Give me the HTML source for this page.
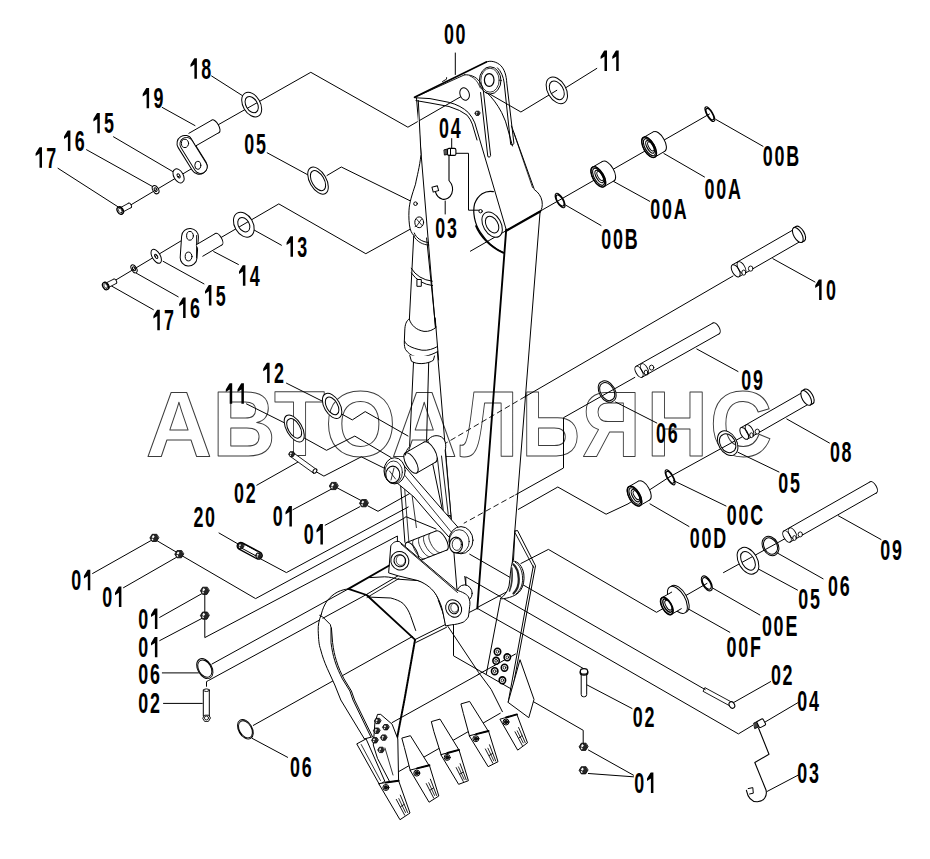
<!DOCTYPE html>
<html><head><meta charset="utf-8"><style>
html,body{margin:0;padding:0;background:#fff;width:930px;height:859px;overflow:hidden}
svg{display:block}
.wm text{font-family:"Liberation Sans",sans-serif;font-weight:bold;font-size:93px;fill:none;stroke:#3c3c3c;stroke-width:1;stroke-linejoin:round}
.lb text{font-family:"Liberation Sans",sans-serif;font-weight:bold;font-size:29.8px;fill:#000}
</style></head><body>
<svg width="930" height="859" viewBox="0 0 930 859" stroke-linecap="round" stroke-linejoin="round">
<g class="wm"><text transform="translate(145.8 456.4) scale(0.989 1)">А</text>
<text transform="translate(212.3 456.4) scale(0.946 1)">В</text>
<text transform="translate(273.9 456.4) scale(0.900 1)">Т</text>
<text transform="translate(324.7 456.4) scale(0.989 1)">О</text>
<text transform="translate(391.3 456.4) scale(0.983 1)">А</text>
<text transform="translate(459.8 456.4) scale(0.897 1)">Л</text>
<text transform="translate(521.3 456.4) scale(0.881 1)">Ь</text>
<text transform="translate(582 456.4) scale(0.876 1)">Я</text>
<text transform="translate(646.5 456.4) scale(0.915 1)">Н</text>
<text transform="translate(709.7 456.4) scale(0.932 1)">С</text></g>
<g class="main"><polyline points="211.6,76 243,96" fill="none" stroke="#000" stroke-width="1"/>
<polyline points="162.2,107.4 195,125.6" fill="none" stroke="#000" stroke-width="1"/>
<polyline points="113.5,136.8 174,172.3" fill="none" stroke="#000" stroke-width="1"/>
<polyline points="86.5,149.7 154.8,187.8" fill="none" stroke="#000" stroke-width="1"/>
<polyline points="58,168.3 118.3,207" fill="none" stroke="#000" stroke-width="1"/>
<polyline points="129,206 197.8,165" fill="none" stroke="#000" stroke-width="1"/>
<polyline points="216,126 310.8,72.3 407.9,127.2 464.6,94.5" fill="none" stroke="#000" stroke-width="1"/>
<polyline points="267.2,152.8 309,175.5" fill="none" stroke="#000" stroke-width="1"/>
<polyline points="327,175.5 341.3,167 415.4,203.4" fill="none" stroke="#000" stroke-width="1"/>
<polyline points="253.5,229.7 281.4,245.2" fill="none" stroke="#000" stroke-width="1"/>
<polyline points="213.7,251.6 238.4,264.5" fill="none" stroke="#000" stroke-width="1"/>
<polyline points="163.1,261.3 204,283.9" fill="none" stroke="#000" stroke-width="1"/>
<polyline points="136.2,273.1 178.2,296.8" fill="none" stroke="#000" stroke-width="1"/>
<polyline points="111.5,286 153.4,309.7" fill="none" stroke="#000" stroke-width="1"/>
<polyline points="110,283.5 190,235.5" fill="none" stroke="#000" stroke-width="1"/>
<polyline points="219,238.7 278.8,203.9 365.8,253.7 418.7,224.5" fill="none" stroke="#000" stroke-width="1"/>
<polyline points="455.3,53 455.3,74.5" fill="none" stroke="#000" stroke-width="1"/>
<polyline points="596.8,68.4 565.8,87.7" fill="none" stroke="#000" stroke-width="1"/>
<polyline points="556.8,90.3 520.9,112 486.3,92.1" fill="none" stroke="#000" stroke-width="1"/>
<polyline points="451.7,138.6 451.7,149.6" fill="none" stroke="#000" stroke-width="1"/>
<polyline points="445.2,201 445.2,214" fill="none" stroke="#000" stroke-width="1"/>
<polyline points="456.4,153.3 468.5,153.3 468.5,210.2 479.5,210.2" fill="none" stroke="#000" stroke-width="1"/>
<polyline points="470.4,251.2 709.5,114" fill="none" stroke="#000" stroke-width="1"/>
<polyline points="715.8,119.4 763,146.3" fill="none" stroke="#000" stroke-width="1"/>
<polyline points="663.9,153.5 704.5,177" fill="none" stroke="#000" stroke-width="1"/>
<polyline points="613.5,181.4 649.7,201.3" fill="none" stroke="#000" stroke-width="1"/>
<polyline points="565.8,205.2 601,225.5" fill="none" stroke="#000" stroke-width="1"/>
<polyline points="733,276 525,396.7" fill="none" stroke="#000" stroke-width="1"/>
<polyline points="525,396.7 430,452.4" fill="none" stroke="#000" stroke-width="0.9" stroke-dasharray="5,4"/>
<polyline points="772.9,258.7 815,282" fill="none" stroke="#000" stroke-width="1"/>
<polyline points="634.8,377.4 563.5,417.7 563.5,468 515.7,494.7" fill="none" stroke="#000" stroke-width="1"/>
<polyline points="514,495.6 464.1,523.1" fill="none" stroke="#000" stroke-width="0.9" stroke-dasharray="5,4"/>
<polyline points="696.8,349 738,371.5" fill="none" stroke="#000" stroke-width="1"/>
<polyline points="615.5,402 656.8,423" fill="none" stroke="#000" stroke-width="1"/>
<polyline points="742,437 669.7,476.8" fill="none" stroke="#000" stroke-width="1"/>
<polyline points="669.7,476.8 628,503.9 606.1,514.2 557.8,487 518.3,509.4" fill="none" stroke="#000" stroke-width="1"/>
<polyline points="786.8,419 829.4,443" fill="none" stroke="#000" stroke-width="1"/>
<polyline points="738,452.3 779,472" fill="none" stroke="#000" stroke-width="1"/>
<polyline points="673.5,480.6 726,506" fill="none" stroke="#000" stroke-width="1"/>
<polyline points="650,503.9 689,526.5" fill="none" stroke="#000" stroke-width="1"/>
<polyline points="707,583.4 656.5,612.3 548.4,549.4 520.9,563.5" fill="none" stroke="#000" stroke-width="1"/>
<polyline points="712,587.7 759.9,615" fill="none" stroke="#000" stroke-width="1"/>
<polyline points="687.4,608.4 729.8,632.3" fill="none" stroke="#000" stroke-width="1"/>
<polyline points="723.5,572.6 786.8,537.7" fill="none" stroke="#000" stroke-width="1"/>
<polyline points="758.4,569 797.5,590.1" fill="none" stroke="#000" stroke-width="1"/>
<polyline points="777.7,553.2 823.1,578.8" fill="none" stroke="#000" stroke-width="1"/>
<polyline points="838.4,515.8 881,539.5" fill="none" stroke="#000" stroke-width="1"/>
<polyline points="733.5,702.6 770.6,681.6" fill="none" stroke="#000" stroke-width="1"/>
<polyline points="762.6,723.5 798,702.6" fill="none" stroke="#000" stroke-width="1"/>
<polyline points="767.4,791.3 798,775.2" fill="none" stroke="#000" stroke-width="1"/>
<polyline points="586.8,684.8 632,708.5" fill="none" stroke="#000" stroke-width="1"/>
<polyline points="588.4,750 633.5,775.2" fill="none" stroke="#000" stroke-width="1"/>
<polyline points="588.4,773.5 633.5,776.8" fill="none" stroke="#000" stroke-width="1"/>
<polyline points="286.5,383.2 322.6,401.3" fill="none" stroke="#000" stroke-width="1"/>
<polyline points="342,414.2 352.3,419.9 365.2,411.6 408,436" fill="none" stroke="#000" stroke-width="1"/>
<polyline points="246.5,403.9 285.2,423.2" fill="none" stroke="#000" stroke-width="1"/>
<polyline points="303.2,437.4 326.5,450.3 354.8,436.1 391,457.5" fill="none" stroke="#000" stroke-width="1"/>
<polyline points="298,462 256.8,485.2" fill="none" stroke="#000" stroke-width="1"/>
<polyline points="314.8,471 323.9,476.1 361.3,456.8 392,472" fill="none" stroke="#000" stroke-width="1"/>
<polyline points="331.6,489 292.9,509.7" fill="none" stroke="#000" stroke-width="1"/>
<polyline points="336.8,487.7 363.9,502" fill="none" stroke="#000" stroke-width="1"/>
<polyline points="367.7,505.8 378,511.3 413.3,491.5" fill="none" stroke="#000" stroke-width="1"/>
<polyline points="360,506.6 325.2,525.2" fill="none" stroke="#000" stroke-width="1"/>
<polyline points="219,533 237.9,543.9" fill="none" stroke="#000" stroke-width="1"/>
<polyline points="259,558 286.4,572.6 408.2,507" fill="none" stroke="#000" stroke-width="1"/>
<polyline points="152,540 92.6,573.5" fill="none" stroke="#000" stroke-width="1"/>
<polyline points="176.5,557.3 123.5,587.7" fill="none" stroke="#000" stroke-width="1"/>
<polyline points="155.8,540 177.7,552.9" fill="none" stroke="#000" stroke-width="1"/>
<polyline points="181.6,555.5 255.6,598.6 403.9,518.3 406,516.7 436,529" fill="none" stroke="#000" stroke-width="1"/>
<polyline points="202.3,593.4 159.7,617.4" fill="none" stroke="#000" stroke-width="1"/>
<polyline points="202.3,618.2 159.7,640.6" fill="none" stroke="#000" stroke-width="1"/>
<polyline points="204.8,594.2 204.8,612.3" fill="none" stroke="#000" stroke-width="1"/>
<polyline points="204.8,618.7 204.8,637.6 397.4,536 397.4,575.3" fill="none" stroke="#000" stroke-width="1"/>
<polyline points="162.3,672.9 198.4,672.9" fill="none" stroke="#000" stroke-width="1"/>
<polyline points="163.5,703.4 202.3,703.4" fill="none" stroke="#000" stroke-width="1"/>
<polyline points="206.5,686.3 206.5,681.6 208.5,680.5 366.1,594.7 398,575.8" fill="none" stroke="#000" stroke-width="1"/>
<polyline points="367,597.5 399,578.5" fill="none" stroke="#000" stroke-width="0.9"/>
<polyline points="212,664 348.4,588.9" fill="none" stroke="#000" stroke-width="1"/>
<polyline points="252.2,738.4 287.6,757.3" fill="none" stroke="#000" stroke-width="1"/>
<polyline points="253.3,725.4 412.5,636.5" fill="none" stroke="#000" stroke-width="1"/>
<polyline points="416.5,98 457,590" fill="none" stroke="#000" stroke-width="1"/>
<polyline points="414.5,97.2 486.3,62" fill="none" stroke="#000" stroke-width="1.7"/>
<polyline points="414.5,97.5 464.6,74.8" fill="none" stroke="#000" stroke-width="0.9"/>
<polyline points="442.5,81.5 446.5,79.2 446.6,77.6" fill="none" stroke="#000" stroke-width="0.9"/>
<path d="M414.5,97.7 L430,98.6 L449.2,102.4 Q461,105.5 468.4,112.6 Q473,118 474.8,122.9 L506.2,229.6" fill="none" stroke="#000" stroke-width="1"/>
<path d="M416,100.6 L430,103 L449,106.5 Q460.7,110 467.1,115.2 Q471,120 472.3,124.1 L477,140" fill="none" stroke="#000" stroke-width="1"/>
<polyline points="506.2,229.6 477.3,608.5" fill="none" stroke="#000" stroke-width="1.9"/>
<path d="M486.3,62 C491,60 497,62 500.8,65.6 C504.5,69.5 506.3,75 506.8,83.2 L513.9,143.3 Q513,146 510.7,144.5 L504.2,83 C503.5,77 501,71 497.5,67.8" fill="none" stroke="#000" stroke-width="1"/>
<ellipse cx="490.2" cy="80.4" rx="10.8" ry="13.6" fill="#fff" stroke="#000" stroke-width="1"/>
<ellipse cx="490" cy="80.2" rx="9.2" ry="12" fill="none" stroke="#000" stroke-width="0.8"/>
<ellipse cx="489.2" cy="80" rx="4.8" ry="6.4" fill="#fff" stroke="#000" stroke-width="1.2"/>
<path d="M464.6,74.8 C470,74.5 476,76.5 479.5,81.5 C482,85 483,89 483.5,92 L490.6,155.6 Q489.5,158.5 487.8,156.5 L480.6,92.5" fill="none" stroke="#000" stroke-width="1"/>
<path d="M470,76 C475,78 478,82 480.3,88" fill="none" stroke="#000" stroke-width="0.8"/>
<path d="M486.3,92.1 Q495,100 501.7,112.6 Q506,121 508,130 L512.5,146" fill="none" stroke="#000" stroke-width="1"/>
<path d="M511.5,126 L534.4,189.7 C538,192 541,196 542,201 C542.8,206 541.8,209.5 540.1,211.5 L512.2,564" fill="none" stroke="#000" stroke-width="1"/>
<path d="M513.9,133 L532.5,187.5" fill="none" stroke="#000" stroke-width="0.8"/>
<polyline points="506.2,230.8 540.1,211.5" fill="none" stroke="#000" stroke-width="2.2"/>
<ellipse cx="464.6" cy="94" rx="4.6" ry="6.3" transform="rotate(-20 464.6 94)" fill="#fff" stroke="#000" stroke-width="1"/>
<polygon points="480,113.3 478.7,115.4 476.1,115.4 474.8,113.3 476.1,111.2 478.7,111.2" fill="#262626" stroke="#000" stroke-width="0.8"/>
<polygon points="475.9,112.9 476.7,111.6 477.6,112.5 476.8,113.5" fill="#fff" stroke="none"/>
<polygon points="475.7,113.9 476.5,113.7 476.9,114.6 476.2,114.8" fill="#fff" stroke="none"/>
<path d="M493.4,191.6 C485,190 478,194.8 474.6,203.8 C472.5,212 474.5,224 480.6,232.5 C486,241 495,249 503.7,252.6" fill="none" stroke="#000" stroke-width="1.2"/>
<path d="M476,226 C480,236 490,247 503,252.8" fill="none" stroke="#000" stroke-width="1.8"/>
<path transform="translate(492.1 224.6) rotate(60)" d="M-13.6,0 a13.6,8.8 0 1,0 27.3,0 a13.6,8.8 0 1,0 -27.3,0 Z M-9,0 a9,5.8 0 1,0 18,0 a9,5.8 0 1,0 -18,0 Z" fill="#fff" fill-rule="evenodd" stroke="#000" stroke-width="1"/>
<ellipse cx="480.6" cy="211.2" rx="1.7" ry="1.7" fill="#fff" stroke="#000" stroke-width="1"/>
<polyline points="477.3,607.5 515,587.5" fill="none" stroke="#000" stroke-width="1"/>
<polyline points="464.7,576.4 466,586" fill="none" stroke="#000" stroke-width="0.9"/>
<path d="M418.3,100.5 L421,154.4 C419.5,168 417,176 415.5,184.2 C412,195 409.5,202 409,210.2 C408.6,217 409,224 410.2,229 C411.5,233 413,235 414.5,236" fill="#fff" stroke="#000" stroke-width="1"/>
<ellipse cx="415.5" cy="203.7" rx="1.8" ry="1.8" fill="#fff" stroke="#000" stroke-width="1"/>
<ellipse cx="419.2" cy="222.3" rx="4.4" ry="5.4" fill="#fff" stroke="#000" stroke-width="1"/>
<polyline points="416.5,219 422,225.5" fill="none" stroke="#000" stroke-width="0.8"/>
<polyline points="416.8,225.8 421.8,218.8" fill="none" stroke="#000" stroke-width="0.8"/>
<path d="M414.3,233 C416,238 422,242 428.5,242.5" fill="none" stroke="#000" stroke-width="1"/>
<path d="M413.8,236 C416.5,241.5 423,245 428.8,245" fill="none" stroke="#000" stroke-width="0.9"/>
<polyline points="413.7,236 409.4,318.8" fill="none" stroke="#000" stroke-width="1"/>
<polyline points="426.6,238 435.8,328.8" fill="none" stroke="#000" stroke-width="1"/>
<path d="M411.2,268.2 Q418,279.5 432.3,281.2" fill="none" stroke="#000" stroke-width="1"/>
<path d="M411.4,273 Q419,284 432.6,285.6" fill="none" stroke="#000" stroke-width="1"/>
<rect x="417.3" y="279.5" width="4" height="6.8" fill="#fff" stroke="#000" stroke-width="1"/>
<path d="M409.3,318.8 C406,321 405,325 404.8,330 L404.3,342 C404.3,346 404.8,348 405.5,349.5 C408,353 411,355.5 415,356.5 C421,357.8 430,356 437.8,351.5 L436.6,327.2 C433,330 429,331.8 424,331.4 C416,330 411,325 409.3,319.3 Z" fill="#fff" stroke="none"/>
<path d="M409.3,318.8 C406,321 405,325 404.8,330 L404.3,342 C404.3,346 404.8,348 405.5,349.5 C408,353 411,355.5 415,356.5 C421,357.8 430,356 437.8,351.5" fill="none" stroke="#000" stroke-width="1"/>
<path d="M409.3,319.3 C411,325 416,330 424,331.4 C429,331.8 433,330 436.2,327.2" fill="none" stroke="#000" stroke-width="1"/>
<path d="M404.6,341.3 C406,345 411,348 421.9,350.2 C428,350.8 433,349 437.3,346.6" fill="none" stroke="#000" stroke-width="1"/>
<path d="M409.8,355.5 L411.4,361.2 C414,363 418,363.7 421.9,363.6 C427,363.3 431,362 433.4,360.2 L434.5,356" fill="#fff" stroke="#000" stroke-width="1"/>
<polyline points="435.2,318 438.6,360" fill="none" stroke="#000" stroke-width="1"/>
<polyline points="413.5,362.3 409.6,446" fill="none" stroke="#000" stroke-width="1"/>
<polyline points="428.7,362.3 426.4,447.5" fill="none" stroke="#000" stroke-width="1"/>
<ellipse cx="129.8" cy="205.4" rx="2.5" ry="1.4" transform="rotate(60 129.8 205.4)" fill="#fff" stroke="#000" stroke-width="0.9"/>
<polygon points="118.8,208.5 128.6,203.2 131.1,207.6 121.2,212.9" fill="#fff" stroke="none"/>
<polyline points="118.8,208.5 128.6,203.2" fill="none" stroke="#000" stroke-width="0.9"/>
<polyline points="121.2,212.9 131.1,207.6" fill="none" stroke="#000" stroke-width="0.9"/>
<ellipse cx="120" cy="210.7" rx="2.5" ry="1.4" transform="rotate(60 120 210.7)" fill="#fff" stroke="#000" stroke-width="0.9"/>
<ellipse cx="120.6" cy="210.3" rx="3.9" ry="2.6" transform="rotate(60 120.6 210.3)" fill="#fff" stroke="#000" stroke-width="1.1"/>
<ellipse cx="120" cy="210.7" rx="3.9" ry="2.6" transform="rotate(60 120 210.7)" fill="#fff" stroke="#000" stroke-width="1.3"/>
<ellipse cx="120.2" cy="210.6" rx="2.6" ry="1.5" transform="rotate(60 120.2 210.6)" fill="none" stroke="#000" stroke-width="0.7"/>
<path transform="translate(155.6 189.6) rotate(60)" d="M-4.4,0 a4.4,2.8 0 1,0 8.9,0 a4.4,2.8 0 1,0 -8.9,0 Z M-2,0 a2,1.3 0 1,0 4,0 a2,1.3 0 1,0 -4,0 Z" fill="#fff" fill-rule="evenodd" stroke="#000" stroke-width="1"/>
<path transform="translate(178.6 175.9) rotate(60)" d="M-7.5,0 a7.5,4.2 0 1,0 14.9,0 a7.5,4.2 0 1,0 -14.9,0 Z M-2.2,0 a2.2,1.3 0 1,0 4.5,0 a2.2,1.3 0 1,0 -4.5,0 Z" fill="#fff" fill-rule="evenodd" stroke="#000" stroke-width="1"/>
<path d="M185,143.4 L199.2,166.2" stroke="#000" stroke-width="17" stroke-linecap="round" fill="none"/>
<path d="M185,143.4 L199.2,166.2" stroke="#fff" stroke-width="15" stroke-linecap="round" fill="none"/>
<path d="M186.5,144 L200.6,166.8" stroke="#000" stroke-width="14.1" stroke-linecap="round" fill="none"/>
<path d="M186.5,144 L200.6,166.8" stroke="#fff" stroke-width="12.3" stroke-linecap="round" fill="none"/>
<ellipse cx="185" cy="143.4" rx="3.6" ry="4.2" fill="#fff" stroke="#000" stroke-width="1"/>
<ellipse cx="197.8" cy="165.3" rx="3" ry="4" fill="#fff" stroke="#000" stroke-width="1"/>
<ellipse cx="215.5" cy="126.3" rx="7.2" ry="3.2" transform="rotate(60 215.5 126.3)" fill="#fff" stroke="#000" stroke-width="1"/>
<polygon points="188.9,133.3 211.9,120.1 219.1,132.5 196.1,145.7" fill="#fff" stroke="none"/>
<polyline points="188.9,133.3 211.9,120.1" fill="none" stroke="#000" stroke-width="1"/>
<polyline points="196.1,145.7 219.1,132.5" fill="none" stroke="#000" stroke-width="1"/>
<path transform="translate(251.7 104.6) rotate(60)" d="M-13.3,0 a13.3,8.6 0 1,0 26.6,0 a13.3,8.6 0 1,0 -26.6,0 Z M-8.8,0 a8.8,5.7 0 1,0 17.6,0 a8.8,5.7 0 1,0 -17.6,0 Z" fill="#fff" fill-rule="evenodd" stroke="#000" stroke-width="1"/>
<path transform="translate(318 180.6) rotate(60)" d="M-14.8,0 a14.8,8.2 0 1,0 29.7,0 a14.8,8.2 0 1,0 -29.7,0 Z M-11,0 a11,6.1 0 1,0 22,0 a11,6.1 0 1,0 -22,0 Z" fill="#fff" fill-rule="evenodd" stroke="#000" stroke-width="1"/>
<ellipse cx="115" cy="281.3" rx="2.5" ry="1.4" transform="rotate(60 115 281.3)" fill="#fff" stroke="#000" stroke-width="0.9"/>
<polygon points="104.2,283.9 113.8,279.1 116.2,283.5 106.8,288.3" fill="#fff" stroke="none"/>
<polyline points="104.2,283.9 113.8,279.1" fill="none" stroke="#000" stroke-width="0.9"/>
<polyline points="106.8,288.3 116.2,283.5" fill="none" stroke="#000" stroke-width="0.9"/>
<ellipse cx="105.5" cy="286.1" rx="2.5" ry="1.4" transform="rotate(60 105.5 286.1)" fill="#fff" stroke="#000" stroke-width="0.9"/>
<ellipse cx="106.1" cy="285.7" rx="3.9" ry="2.6" transform="rotate(60 106.1 285.7)" fill="#fff" stroke="#000" stroke-width="1.1"/>
<ellipse cx="105.5" cy="286.1" rx="3.9" ry="2.6" transform="rotate(60 105.5 286.1)" fill="#fff" stroke="#000" stroke-width="1.3"/>
<ellipse cx="105.7" cy="286" rx="2.6" ry="1.5" transform="rotate(60 105.7 286)" fill="none" stroke="#000" stroke-width="0.7"/>
<path transform="translate(134 268.8) rotate(60)" d="M-4.4,0 a4.4,2.5 0 1,0 8.8,0 a4.4,2.5 0 1,0 -8.8,0 Z M-2,0 a2,1.1 0 1,0 3.9,0 a2,1.1 0 1,0 -3.9,0 Z" fill="#fff" fill-rule="evenodd" stroke="#000" stroke-width="1"/>
<path transform="translate(156.2 256.3) rotate(60)" d="M-7.7,0 a7.7,4 0 1,0 15.5,0 a7.7,4 0 1,0 -15.5,0 Z M-2.3,0 a2.3,1.2 0 1,0 4.6,0 a2.3,1.2 0 1,0 -4.6,0 Z" fill="#fff" fill-rule="evenodd" stroke="#000" stroke-width="1"/>
<path d="M190,236.8 L188.6,257.6" stroke="#000" stroke-width="17.8" stroke-linecap="round" fill="none"/>
<path d="M190,236.8 L188.6,257.6" stroke="#fff" stroke-width="15.8" stroke-linecap="round" fill="none"/>
<polyline points="196.6,235.5 196.5,258" fill="none" stroke="#000" stroke-width="0.9"/>
<ellipse cx="190" cy="235.8" rx="3.4" ry="4.4" fill="#fff" stroke="#000" stroke-width="1"/>
<ellipse cx="188.6" cy="256.5" rx="3.4" ry="4.4" fill="#fff" stroke="#000" stroke-width="1"/>
<ellipse cx="218.7" cy="239.2" rx="6.6" ry="3" transform="rotate(60 218.7 239.2)" fill="#fff" stroke="#000" stroke-width="1"/>
<polygon points="196.2,244.8 215.4,233.5 222,244.9 202.8,256.2" fill="#fff" stroke="none"/>
<polyline points="196.2,244.8 215.4,233.5" fill="none" stroke="#000" stroke-width="1"/>
<polyline points="202.8,256.2 222,244.9" fill="none" stroke="#000" stroke-width="1"/>
<path transform="translate(243.8 224.7) rotate(60)" d="M-13.3,0 a13.3,9.2 0 1,0 26.6,0 a13.3,9.2 0 1,0 -26.6,0 Z M-7.7,0 a7.7,5.4 0 1,0 15.4,0 a7.7,5.4 0 1,0 -15.4,0 Z" fill="#fff" fill-rule="evenodd" stroke="#000" stroke-width="1"/>
<path transform="translate(556.8 90.3) rotate(60)" d="M-14.4,0 a14.4,9.1 0 1,0 28.9,0 a14.4,9.1 0 1,0 -28.9,0 Z M-10.1,0 a10.1,6.4 0 1,0 20.2,0 a10.1,6.4 0 1,0 -20.2,0 Z" fill="#fff" fill-rule="evenodd" stroke="#000" stroke-width="1"/>
<polygon points="444.3,149.8 447.3,149 447.8,154.4 444.8,155" fill="#555" stroke="#000" stroke-width="0.9"/>
<rect x="447.5" y="148.4" width="8.4" height="7" rx="1.5" fill="#fff" stroke="#000" stroke-width="1.1"/>
<polyline points="450.5,148.6 450.5,155.2" fill="none" stroke="#000" stroke-width="1"/>
<path d="M449,155 L449,180.5 C452,184 453.5,189 451.8,193.5 C450,198 446,200 442.5,199.2 C439,198.2 436.5,195.5 435.5,192" fill="none" stroke="#000" stroke-width="1.1"/>
<rect x="432.5" y="186.5" width="5.6" height="5" fill="#fff" stroke="#000" stroke-width="1" transform="rotate(-15 435 189)"/>
<path transform="translate(560.1 200.5) rotate(60)" d="M-8.1,0 a8.1,3.4 0 1,0 16.2,0 a8.1,3.4 0 1,0 -16.2,0 Z M-6.3,0 a6.3,2.7 0 1,0 12.6,0 a6.3,2.7 0 1,0 -12.6,0 Z" fill="#fff" fill-rule="evenodd" stroke="#000" stroke-width="1.1"/>
<ellipse cx="608.3" cy="171.2" rx="11.3" ry="5.4" transform="rotate(60 608.3 171.2)" fill="#fff" stroke="#000" stroke-width="1"/>
<polygon points="592.6,167.1 602.6,161.4 613.9,180.9 603.9,186.7" fill="#fff" stroke="none"/>
<polyline points="592.6,167.1 602.6,161.4" fill="none" stroke="#000" stroke-width="1"/>
<polyline points="603.9,186.7 613.9,180.9" fill="none" stroke="#000" stroke-width="1"/>
<ellipse cx="598.3" cy="176.9" rx="11.3" ry="5.4" transform="rotate(60 598.3 176.9)" fill="#fff" stroke="#000" stroke-width="1"/>
<ellipse cx="598.3" cy="176.9" rx="11.3" ry="5.4" transform="rotate(60 598.3 176.9)" fill="#fff" stroke="#000" stroke-width="1.5"/>
<ellipse cx="598.6" cy="176.8" rx="9.5" ry="4.3" transform="rotate(60 598.6 176.8)" fill="none" stroke="#000" stroke-width="1.1"/>
<ellipse cx="599.3" cy="176.5" rx="7" ry="3" transform="rotate(60 599.3 176.5)" fill="#fff" stroke="#000" stroke-width="1.2"/>
<ellipse cx="600.1" cy="176" rx="5.1" ry="2.2" transform="rotate(60 600.1 176)" fill="none" stroke="#000" stroke-width="0.9"/>
<ellipse cx="659.1" cy="141.6" rx="11.3" ry="5.4" transform="rotate(60 659.1 141.6)" fill="#fff" stroke="#000" stroke-width="1"/>
<polygon points="643.5,137.5 653.4,131.8 664.7,151.3 654.8,157.1" fill="#fff" stroke="none"/>
<polyline points="643.5,137.5 653.4,131.8" fill="none" stroke="#000" stroke-width="1"/>
<polyline points="654.8,157.1 664.7,151.3" fill="none" stroke="#000" stroke-width="1"/>
<ellipse cx="649.1" cy="147.3" rx="11.3" ry="5.4" transform="rotate(60 649.1 147.3)" fill="#fff" stroke="#000" stroke-width="1"/>
<ellipse cx="649.1" cy="147.3" rx="11.3" ry="5.4" transform="rotate(60 649.1 147.3)" fill="#fff" stroke="#000" stroke-width="1.5"/>
<ellipse cx="649.4" cy="147.2" rx="9.5" ry="4.3" transform="rotate(60 649.4 147.2)" fill="none" stroke="#000" stroke-width="1.1"/>
<ellipse cx="650.1" cy="146.9" rx="7" ry="3" transform="rotate(60 650.1 146.9)" fill="#fff" stroke="#000" stroke-width="1.2"/>
<ellipse cx="650.9" cy="146.4" rx="5.1" ry="2.2" transform="rotate(60 650.9 146.4)" fill="none" stroke="#000" stroke-width="0.9"/>
<path transform="translate(709.9 114.2) rotate(60)" d="M-8.2,0 a8.2,2.7 0 1,0 16.3,0 a8.2,2.7 0 1,0 -16.3,0 Z M-6.4,0 a6.4,2.1 0 1,0 12.7,0 a6.4,2.1 0 1,0 -12.7,0 Z" fill="#fff" fill-rule="evenodd" stroke="#000" stroke-width="1.1"/>
<ellipse cx="797.5" cy="235.2" rx="6.8" ry="3.4" transform="rotate(60 797.5 235.2)" fill="#fff" stroke="#000" stroke-width="1"/>
<polygon points="732.3,264.9 794.1,229.3 800.9,241.1 739.1,276.7" fill="#fff" stroke="none"/>
<polyline points="732.3,264.9 794.1,229.3" fill="none" stroke="#000" stroke-width="1"/>
<polyline points="739.1,276.7 800.9,241.1" fill="none" stroke="#000" stroke-width="1"/>
<ellipse cx="735.7" cy="270.8" rx="6.8" ry="3.4" transform="rotate(60 735.7 270.8)" fill="#fff" stroke="#000" stroke-width="1"/>
<ellipse cx="800.2" cy="233.6" rx="8.3" ry="4" transform="rotate(60 800.2 233.6)" fill="#fff" stroke="#000" stroke-width="1.1"/>
<polygon points="793.6,227.8 796.1,226.4 804.4,240.8 801.9,242.2" fill="#fff" stroke="none"/>
<polyline points="793.6,227.8 796.1,226.4" fill="none" stroke="#000" stroke-width="1.1"/>
<polyline points="801.9,242.2 804.4,240.8" fill="none" stroke="#000" stroke-width="1.1"/>
<ellipse cx="797.8" cy="235" rx="8.3" ry="4" transform="rotate(60 797.8 235)" fill="#fff" stroke="#000" stroke-width="1.1"/>
<ellipse cx="741.5" cy="267.8" rx="6.8" ry="3.4" transform="rotate(60 741.5 267.8)" fill="none" stroke="#000" stroke-width="0.9"/>
<ellipse cx="743.8" cy="272.6" rx="2" ry="2.6" fill="#fff" stroke="#000" stroke-width="0.9"/>
<ellipse cx="750.7" cy="268.6" rx="2.3" ry="2.6" fill="#fff" stroke="#000" stroke-width="0.9"/>
<path transform="translate(607.2 391.6) rotate(60)" d="M-11.3,0 a11.3,7.2 0 1,0 22.5,0 a11.3,7.2 0 1,0 -22.5,0 Z M-9.5,0 a9.5,6 0 1,0 18.9,0 a9.5,6 0 1,0 -18.9,0 Z" fill="#fff" fill-rule="evenodd" stroke="#000" stroke-width="1"/>
<ellipse cx="716.1" cy="328.4" rx="6.2" ry="3.1" transform="rotate(60 716.1 328.4)" fill="#fff" stroke="#000" stroke-width="1"/>
<polygon points="635.9,366.4 713,323 719.2,333.8 642.1,377.2" fill="#fff" stroke="none"/>
<polyline points="635.9,366.4 713,323" fill="none" stroke="#000" stroke-width="1"/>
<polyline points="642.1,377.2 719.2,333.8" fill="none" stroke="#000" stroke-width="1"/>
<ellipse cx="639" cy="371.8" rx="6.2" ry="3.1" transform="rotate(60 639 371.8)" fill="#fff" stroke="#000" stroke-width="1"/>
<ellipse cx="644.5" cy="369.2" rx="6.2" ry="3.1" transform="rotate(60 644.5 369.2)" fill="none" stroke="#000" stroke-width="0.9"/>
<ellipse cx="646" cy="372.5" rx="1.8" ry="2.4" fill="#fff" stroke="#000" stroke-width="0.9"/>
<ellipse cx="651.6" cy="367.6" rx="2.2" ry="2.5" fill="#fff" stroke="#000" stroke-width="0.9"/>
<ellipse cx="806" cy="398" rx="6.6" ry="3.3" transform="rotate(60 806 398)" fill="#fff" stroke="#000" stroke-width="1"/>
<polygon points="740.9,427.7 802.7,392.3 809.3,403.7 747.5,439.1" fill="#fff" stroke="none"/>
<polyline points="740.9,427.7 802.7,392.3" fill="none" stroke="#000" stroke-width="1"/>
<polyline points="747.5,439.1 809.3,403.7" fill="none" stroke="#000" stroke-width="1"/>
<ellipse cx="744.2" cy="433.4" rx="6.6" ry="3.3" transform="rotate(60 744.2 433.4)" fill="#fff" stroke="#000" stroke-width="1"/>
<ellipse cx="808.8" cy="396.4" rx="8.2" ry="4" transform="rotate(60 808.8 396.4)" fill="#fff" stroke="#000" stroke-width="1.1"/>
<polygon points="802.1,390.8 804.7,389.3 812.9,403.5 810.3,405" fill="#fff" stroke="none"/>
<polyline points="802.1,390.8 804.7,389.3" fill="none" stroke="#000" stroke-width="1.1"/>
<polyline points="810.3,405 812.9,403.5" fill="none" stroke="#000" stroke-width="1.1"/>
<ellipse cx="806.2" cy="397.9" rx="8.2" ry="4" transform="rotate(60 806.2 397.9)" fill="#fff" stroke="#000" stroke-width="1.1"/>
<ellipse cx="749.5" cy="430.6" rx="6.6" ry="3.3" transform="rotate(60 749.5 430.6)" fill="none" stroke="#000" stroke-width="0.9"/>
<ellipse cx="751.5" cy="435.2" rx="1.8" ry="2.4" fill="#fff" stroke="#000" stroke-width="0.9"/>
<ellipse cx="757.3" cy="431.6" rx="2.2" ry="2.5" fill="#fff" stroke="#000" stroke-width="0.9"/>
<path transform="translate(727.7 443.2) rotate(60)" d="M-13.2,0 a13.2,9.1 0 1,0 26.4,0 a13.2,9.1 0 1,0 -26.4,0 Z M-9.8,0 a9.8,6.8 0 1,0 19.5,0 a9.8,6.8 0 1,0 -19.5,0 Z" fill="#fff" fill-rule="evenodd" stroke="#000" stroke-width="1"/>
<path transform="translate(670.1 477.3) rotate(60)" d="M-8.5,0 a8.5,3.1 0 1,0 17,0 a8.5,3.1 0 1,0 -17,0 Z M-6.6,0 a6.6,2.4 0 1,0 13.2,0 a6.6,2.4 0 1,0 -13.2,0 Z" fill="#fff" fill-rule="evenodd" stroke="#000" stroke-width="1.1"/>
<ellipse cx="644" cy="490.6" rx="11" ry="5.4" transform="rotate(60 644 490.6)" fill="#fff" stroke="#000" stroke-width="1"/>
<polygon points="629,486.6 638.5,481.1 649.5,500.1 640,505.6" fill="#fff" stroke="none"/>
<polyline points="629,486.6 638.5,481.1" fill="none" stroke="#000" stroke-width="1"/>
<polyline points="640,505.6 649.5,500.1" fill="none" stroke="#000" stroke-width="1"/>
<ellipse cx="634.5" cy="496.1" rx="11" ry="5.4" transform="rotate(60 634.5 496.1)" fill="#fff" stroke="#000" stroke-width="1"/>
<ellipse cx="634.5" cy="496.1" rx="11" ry="5.4" transform="rotate(60 634.5 496.1)" fill="#fff" stroke="#000" stroke-width="1.5"/>
<ellipse cx="634.8" cy="496" rx="9.2" ry="4.3" transform="rotate(60 634.8 496)" fill="none" stroke="#000" stroke-width="1.1"/>
<ellipse cx="635.5" cy="495.7" rx="6.8" ry="3" transform="rotate(60 635.5 495.7)" fill="#fff" stroke="#000" stroke-width="1.2"/>
<ellipse cx="636.3" cy="495.2" rx="5" ry="2.2" transform="rotate(60 636.3 495.2)" fill="none" stroke="#000" stroke-width="0.9"/>
<ellipse cx="873.2" cy="487.4" rx="6.4" ry="3.2" transform="rotate(60 873.2 487.4)" fill="#fff" stroke="#000" stroke-width="1"/>
<polygon points="783.8,531 870,481.9 876.4,492.9 790.2,542" fill="#fff" stroke="none"/>
<polyline points="783.8,531 870,481.9" fill="none" stroke="#000" stroke-width="1"/>
<polyline points="790.2,542 876.4,492.9" fill="none" stroke="#000" stroke-width="1"/>
<ellipse cx="787" cy="536.5" rx="6.4" ry="3.2" transform="rotate(60 787 536.5)" fill="#fff" stroke="#000" stroke-width="1"/>
<ellipse cx="792.5" cy="533.6" rx="6.4" ry="3.2" transform="rotate(60 792.5 533.6)" fill="none" stroke="#000" stroke-width="0.9"/>
<ellipse cx="794.5" cy="538" rx="1.8" ry="2.4" fill="#fff" stroke="#000" stroke-width="0.9"/>
<ellipse cx="800.3" cy="534.4" rx="2.2" ry="2.5" fill="#fff" stroke="#000" stroke-width="0.9"/>
<path transform="translate(770.5 546) rotate(60)" d="M-10.3,0 a10.3,7.7 0 1,0 20.6,0 a10.3,7.7 0 1,0 -20.6,0 Z M-8.6,0 a8.6,6.4 0 1,0 17.3,0 a8.6,6.4 0 1,0 -17.3,0 Z" fill="#fff" fill-rule="evenodd" stroke="#000" stroke-width="1"/>
<path transform="translate(748 560.8) rotate(60)" d="M-14.2,0 a14.2,8.6 0 1,0 28.3,0 a14.2,8.6 0 1,0 -28.3,0 Z M-10.2,0 a10.2,6.2 0 1,0 20.4,0 a10.2,6.2 0 1,0 -20.4,0 Z" fill="#fff" fill-rule="evenodd" stroke="#000" stroke-width="1"/>
<path transform="translate(706.8 583.4) rotate(60)" d="M-8.3,0 a8.3,4.2 0 1,0 16.6,0 a8.3,4.2 0 1,0 -16.6,0 Z M-6.5,0 a6.5,3.2 0 1,0 13,0 a6.5,3.2 0 1,0 -13,0 Z" fill="#fff" fill-rule="evenodd" stroke="#000" stroke-width="1.1"/>
<ellipse cx="679.2" cy="598.8" rx="15" ry="7.6" transform="rotate(60 679.2 598.8)" fill="#fff" stroke="#000" stroke-width="1"/>
<ellipse cx="677.4" cy="599.9" rx="15" ry="7.6" transform="rotate(60 677.4 599.9)" fill="#fff" stroke="#000" stroke-width="1"/>
<polygon points="662,597.7 671.7,592.1 681.3,608.7 671.6,614.3" fill="#fff" stroke="none"/>
<polyline points="662,597.7 671.7,592.1" fill="none" stroke="#000" stroke-width="1"/>
<polyline points="671.6,614.3 681.3,608.7" fill="none" stroke="#000" stroke-width="1"/>
<ellipse cx="666.8" cy="606" rx="9.6" ry="4.6" transform="rotate(60 666.8 606)" fill="#fff" stroke="#000" stroke-width="1"/>
<ellipse cx="666.8" cy="606" rx="9.6" ry="4.6" transform="rotate(60 666.8 606)" fill="#fff" stroke="#000" stroke-width="1.7"/>
<ellipse cx="667.5" cy="605.6" rx="7.4" ry="3.4" transform="rotate(60 667.5 605.6)" fill="none" stroke="#000" stroke-width="1.4"/>
<ellipse cx="668.3" cy="605.2" rx="5.4" ry="2.4" transform="rotate(60 668.3 605.2)" fill="#fff" stroke="#000" stroke-width="1"/>
<polygon points="705.2,687.8 732.2,702.4 730.4,706.2 703.4,691.5" fill="#fff" stroke="#000" stroke-width="0.9"/>
<ellipse cx="731.9" cy="705" rx="2.6" ry="3.4" transform="rotate(-30 731.9 705)" fill="#fff" stroke="#000" stroke-width="1.1"/>
<polygon points="754,723 757.5,721.4 758.5,727 755,728.5" fill="#444" stroke="#000" stroke-width="0.9"/>
<rect x="757.6" y="719.8" width="7" height="7" rx="1.2" fill="#fff" stroke="#000" stroke-width="1" transform="rotate(-28 761 723)"/>
<path d="M758.5,728 L769,754.2 L754.8,762.5 L766,790 C767.5,796 764,801.5 757.5,801.8 C752,802 748,798 746.4,790.4" fill="none" stroke="#000" stroke-width="1.1"/>
<path d="M748.2,788.6 L752.8,787.6 L753.3,793.2 L749.6,794" fill="none" stroke="#000" stroke-width="1"/>
<rect x="581.2" y="671" width="5.5" height="25.8" rx="2.4" fill="#fff" stroke="#000" stroke-width="1"/>
<ellipse cx="584" cy="672.6" rx="3.9" ry="2.6" fill="#fff" stroke="#000" stroke-width="1.2"/>
<ellipse cx="584" cy="671.4" rx="3.7" ry="2.8" fill="#fff" stroke="#000" stroke-width="1.2"/>
<polygon points="587.9,746.8 585.7,750.4 581.3,750.4 579.1,746.8 581.3,743.2 585.7,743.2" fill="#262626" stroke="#000" stroke-width="0.8"/>
<polygon points="580.9,746.2 582.3,744 583.8,745.4 582.5,747.2" fill="#fff" stroke="none"/>
<polygon points="580.7,747.8 581.9,747.4 582.7,749 581.5,749.4" fill="#fff" stroke="none"/>
<polygon points="587.9,770.3 585.7,773.9 581.3,773.9 579.1,770.3 581.3,766.7 585.7,766.7" fill="#262626" stroke="#000" stroke-width="0.8"/>
<polygon points="580.9,769.7 582.3,767.5 583.8,768.9 582.5,770.7" fill="#fff" stroke="none"/>
<polygon points="580.7,771.3 581.9,770.9 582.7,772.5 581.5,772.9" fill="#fff" stroke="none"/>
<path transform="translate(332.1 405.9) rotate(60)" d="M-13.8,0 a13.8,7.9 0 1,0 27.6,0 a13.8,7.9 0 1,0 -27.6,0 Z M-9.7,0 a9.7,5.5 0 1,0 19.4,0 a9.7,5.5 0 1,0 -19.4,0 Z" fill="#fff" fill-rule="evenodd" stroke="#000" stroke-width="1"/>
<path transform="translate(294.2 428.4) rotate(60)" d="M-14.9,0 a14.9,7.7 0 1,0 29.9,0 a14.9,7.7 0 1,0 -29.9,0 Z M-10.5,0 a10.5,5.4 0 1,0 20.9,0 a10.5,5.4 0 1,0 -20.9,0 Z" fill="#fff" fill-rule="evenodd" stroke="#000" stroke-width="1"/>
<polygon points="290.8,456.3 292.6,452.2 315.8,469 314,473" fill="#fff" stroke="#000" stroke-width="0.9"/>
<ellipse cx="314.9" cy="471" rx="1.7" ry="2.4" transform="rotate(35 314.9 471)" fill="#fff" stroke="#000" stroke-width="1.1"/>
<polygon points="294.6,454.2 293.1,456.7 290.1,456.7 288.6,454.2 290.1,451.7 293.1,451.7" fill="#262626" stroke="#000" stroke-width="0.8"/>
<polygon points="289.8,453.8 290.8,452.3 291.8,453.2 290.9,454.5" fill="#fff" stroke="none"/>
<polygon points="289.7,454.9 290.5,454.6 291.1,455.7 290.2,456" fill="#fff" stroke="none"/>
<polygon points="338.1,486 335.9,489.6 331.5,489.6 329.3,486 331.5,482.4 335.9,482.4" fill="#262626" stroke="#000" stroke-width="0.8"/>
<polygon points="331.1,485.4 332.5,483.2 334,484.6 332.7,486.4" fill="#fff" stroke="none"/>
<polygon points="330.9,487 332.1,486.6 332.9,488.2 331.7,488.6" fill="#fff" stroke="none"/>
<polygon points="368.3,503.2 366.1,506.8 361.7,506.8 359.5,503.2 361.7,499.6 366.1,499.6" fill="#262626" stroke="#000" stroke-width="0.8"/>
<polygon points="361.3,502.6 362.7,500.4 364.2,501.8 362.9,503.6" fill="#fff" stroke="none"/>
<polygon points="361.1,504.2 362.3,503.8 363.1,505.4 361.9,505.8" fill="#fff" stroke="none"/>
<path d="M240.8,546 L258.6,555.6" stroke="#000" stroke-width="8.5" stroke-linecap="round" fill="none"/>
<path d="M240.8,546 L258.6,555.6" stroke="#fff" stroke-width="5.9" stroke-linecap="round" fill="none"/>
<polyline points="243,543.6 257,551.2" fill="none" stroke="#000" stroke-width="1"/>
<polyline points="242.5,548.6 256.5,556.2" fill="none" stroke="#000" stroke-width="1"/>
<polygon points="244.1,546 242.5,548.7 239.2,548.7 237.5,546 239.2,543.3 242.5,543.3" fill="#262626" stroke="#000" stroke-width="0.8"/>
<polygon points="238.9,545.5 239.9,543.9 241,545 240.1,546.3" fill="#fff" stroke="none"/>
<polygon points="238.7,546.8 239.6,546.5 240.2,547.6 239.3,548" fill="#fff" stroke="none"/>
<polygon points="261.9,555.6 260.2,558.3 257,558.3 255.3,555.6 257,552.9 260.2,552.9" fill="#262626" stroke="#000" stroke-width="0.8"/>
<polygon points="256.7,555.1 257.7,553.5 258.8,554.6 257.9,555.9" fill="#fff" stroke="none"/>
<polygon points="256.5,556.4 257.4,556.1 258,557.2 257.1,557.6" fill="#fff" stroke="none"/>
<polygon points="158.7,537.9 156.5,541.5 152.1,541.5 149.9,537.9 152.1,534.3 156.5,534.3" fill="#262626" stroke="#000" stroke-width="0.8"/>
<polygon points="151.7,537.3 153.1,535.1 154.6,536.5 153.3,538.3" fill="#fff" stroke="none"/>
<polygon points="151.5,538.9 152.7,538.5 153.5,540.1 152.3,540.5" fill="#fff" stroke="none"/>
<polygon points="183.6,554.2 181.4,557.8 177,557.8 174.8,554.2 177,550.6 181.4,550.6" fill="#262626" stroke="#000" stroke-width="0.8"/>
<polygon points="176.6,553.6 178,551.4 179.5,552.8 178.2,554.6" fill="#fff" stroke="none"/>
<polygon points="176.4,555.2 177.6,554.8 178.4,556.4 177.2,556.8" fill="#fff" stroke="none"/>
<polygon points="209.2,590.8 207,594.4 202.6,594.4 200.4,590.8 202.6,587.2 207,587.2" fill="#262626" stroke="#000" stroke-width="0.8"/>
<polygon points="202.2,590.2 203.6,588 205.1,589.4 203.8,591.2" fill="#fff" stroke="none"/>
<polygon points="202,591.8 203.2,591.4 204,593 202.8,593.4" fill="#fff" stroke="none"/>
<polygon points="209.2,615.6 207,619.2 202.6,619.2 200.4,615.6 202.6,612 207,612" fill="#262626" stroke="#000" stroke-width="0.8"/>
<polygon points="202.2,615 203.6,612.8 205.1,614.2 203.8,616" fill="#fff" stroke="none"/>
<polygon points="202,616.6 203.2,616.2 204,617.8 202.8,618.2" fill="#fff" stroke="none"/>
<path transform="translate(204.8 668.6) rotate(60)" d="M-10.8,0 a10.8,7.1 0 1,0 21.6,0 a10.8,7.1 0 1,0 -21.6,0 Z M-9.3,0 a9.3,6.1 0 1,0 18.6,0 a9.3,6.1 0 1,0 -18.6,0 Z" fill="#fff" fill-rule="evenodd" stroke="#000" stroke-width="0.9"/>
<rect x="203.7" y="689.8" width="5.6" height="26.5" fill="#fff" stroke="#000" stroke-width="1"/>
<polygon points="210.3,718.3 208.4,721.4 204.6,721.4 202.7,718.3 204.6,715.2 208.4,715.2" fill="#fff" stroke="#000" stroke-width="0.9"/>
<ellipse cx="206.5" cy="718" rx="2.1" ry="1.9" fill="none" stroke="#000" stroke-width="0.8"/>
<ellipse cx="206.5" cy="690.2" rx="2.8" ry="1.3" fill="#fff" stroke="#000" stroke-width="0.9"/>
<path transform="translate(245.4 729.3) rotate(60)" d="M-10.6,0 a10.6,6.8 0 1,0 21.2,0 a10.6,6.8 0 1,0 -21.2,0 Z M-9.2,0 a9.2,5.9 0 1,0 18.5,0 a9.2,5.9 0 1,0 -18.5,0 Z" fill="#fff" fill-rule="evenodd" stroke="#000" stroke-width="0.9"/>
<polyline points="469.7,554.2 705.2,689.6" fill="none" stroke="#000" stroke-width="1"/>
<polyline points="465.8,590.3 465.8,576.8 738.4,733.9 752.9,725.2" fill="none" stroke="#000" stroke-width="1"/>
<polyline points="477.4,608.4 583.2,668.4" fill="none" stroke="#000" stroke-width="1"/>
<polyline points="453.5,594 453.5,655.8 583.2,730.3 583.2,743.5" fill="none" stroke="#000" stroke-width="1"/>
<path d="M321.2,614.6 C319,620 318,625 318.2,630.5 C318.6,640 319,645 320.4,648.7 C322.5,657 324.5,662 327.2,668.3 L334.8,685 L340.8,700 L364.4,738.9" fill="#fff" stroke="#000" stroke-width="1"/>
<path d="M319.7,615.4 L322.7,616.9 L330.3,624.5 L331,627.5 L331,642.6 C332,650 333,655 334.8,660.8 C337,668 339.5,673 342.4,678.9 L349.9,691 L353,700 L371,737.2" fill="none" stroke="#000" stroke-width="1"/>
<path d="M331.4,627.8 L332.6,642.6 C333.5,650 334.6,655 336.4,660.8 C338.6,668 341,673 344,678.9 L351.4,691 L354.6,700 L372.6,737" fill="none" stroke="#000" stroke-width="1"/>
<path d="M321.2,614.6 C322.5,609 324.5,604.8 327,601 C330,597.2 333.5,594 337.8,591.9 C341,590.3 345,589.2 348.4,588.9" fill="none" stroke="#000" stroke-width="1"/>
<polyline points="348.4,588.9 391,564.5" fill="none" stroke="#000" stroke-width="1.8"/>
<polyline points="348.4,588.9 366.6,595 415,639.6" fill="none" stroke="#000" stroke-width="1.8"/>
<path d="M366.6,595 L371.1,597.2 L390.8,598 C396,599.5 400,601 402.9,603.3 C406.5,607 408.8,611 410.4,615.4 L415.7,630.5" fill="none" stroke="#000" stroke-width="1"/>
<path d="M369.6,577.6 L384.7,576.8 C390,577 394,578 396.8,579.1 L418,580.6 C423,582 427,584 430,586.6 C433,589.5 435,592.5 436.6,595.6 C439.5,601 441.5,606 442.6,610.8 L445.6,624.4" fill="none" stroke="#000" stroke-width="1"/>
<polyline points="415,639.6 445.6,624.4" fill="none" stroke="#000" stroke-width="1"/>
<polyline points="415.8,642.5 446.5,627.3" fill="none" stroke="#000" stroke-width="1"/>
<polyline points="415,640 404.4,700 397,738.5" fill="none" stroke="#000" stroke-width="2" stroke-dasharray="1.6,0.9"/>
<polyline points="392.1,722.6 479,674.2" fill="none" stroke="#000" stroke-width="1"/>
<polyline points="398,772 500.3,713.2" fill="none" stroke="#000" stroke-width="1"/>
<polyline points="445.6,624.4 478,608" fill="none" stroke="#000" stroke-width="1"/>
<polyline points="478,674.5 515.5,654" fill="none" stroke="#000" stroke-width="1"/>
<polyline points="364.4,738.9 371,737.2" fill="none" stroke="#000" stroke-width="1"/>
<polygon points="357.1,743.7 366.1,738.9 384.8,781.2 379.9,784.5" fill="#fff" stroke="#000" stroke-width="1"/>
<polyline points="361.2,744.5 380.5,780.5" fill="none" stroke="#000" stroke-width="0.8"/>
<polygon points="375,722.6 377.5,714.4 380.7,714.4 392.1,724.2 397.8,738.9 398.6,781.2 396.2,794.2 377.5,758.4 373.4,745.4" fill="#fff" stroke="#000" stroke-width="1"/>
<polygon points="380.9,721 379.2,723.7 376,723.7 374.3,721 376,718.3 379.2,718.3" fill="#262626" stroke="#000" stroke-width="0.8"/>
<polygon points="375.7,720.5 376.7,718.9 377.8,720 376.9,721.3" fill="#fff" stroke="none"/>
<polygon points="375.5,721.8 376.4,721.5 377,722.6 376.1,723" fill="#fff" stroke="none"/>
<polygon points="389.1,727.2 387.4,729.9 384.2,729.9 382.5,727.2 384.2,724.5 387.4,724.5" fill="#262626" stroke="#000" stroke-width="0.8"/>
<polygon points="383.9,726.8 384.9,725.1 386,726.2 385.1,727.5" fill="#fff" stroke="none"/>
<polygon points="383.7,728 384.6,727.7 385.2,728.9 384.3,729.2" fill="#fff" stroke="none"/>
<polygon points="380,730.7 378.3,733.4 375.1,733.4 373.4,730.7 375.1,728 378.3,728" fill="#262626" stroke="#000" stroke-width="0.8"/>
<polygon points="374.8,730.2 375.8,728.6 376.9,729.7 375.9,731" fill="#fff" stroke="none"/>
<polygon points="374.6,731.5 375.5,731.2 376.1,732.4 375.2,732.7" fill="#fff" stroke="none"/>
<polygon points="387,737.6 385.3,740.3 382.1,740.3 380.4,737.6 382.1,734.9 385.3,734.9" fill="#262626" stroke="#000" stroke-width="0.8"/>
<polygon points="381.8,737.1 382.8,735.5 383.9,736.6 382.9,737.9" fill="#fff" stroke="none"/>
<polygon points="381.6,738.4 382.5,738.1 383.1,739.2 382.2,739.6" fill="#fff" stroke="none"/>
<polygon points="378.2,740.3 376.5,743 373.2,743 371.6,740.3 373.2,737.6 376.5,737.6" fill="#262626" stroke="#000" stroke-width="0.8"/>
<polygon points="372.9,739.8 374,738.2 375.1,739.2 374.1,740.6" fill="#fff" stroke="none"/>
<polygon points="372.8,741 373.7,740.8 374.3,741.9 373.4,742.2" fill="#fff" stroke="none"/>
<polygon points="384.3,749.9 382.6,752.6 379.4,752.6 377.7,749.9 379.4,747.2 382.6,747.2" fill="#262626" stroke="#000" stroke-width="0.8"/>
<polygon points="379.1,749.4 380.1,747.8 381.2,748.9 380.2,750.2" fill="#fff" stroke="none"/>
<polygon points="378.9,750.6 379.8,750.4 380.4,751.5 379.5,751.9" fill="#fff" stroke="none"/>
<polyline points="385,748 393,775" fill="none" stroke="#000" stroke-width="0.8"/>
<polygon points="379.1,783.6 398.6,780.7 410,813 400.3,819.5" fill="#fff" stroke="#000" stroke-width="1"/>
<polyline points="385.9,782.6 398.6,780.7" fill="none" stroke="#000" stroke-width="2"/>
<polyline points="396.3,799.4 404.7,815.2" fill="none" stroke="#000" stroke-width="0.9"/>
<polyline points="400.3,795.1 407.6,812.5" fill="none" stroke="#000" stroke-width="0.9"/>
<polyline points="400.6,806.7 404.1,804.4" fill="none" stroke="#000" stroke-width="0.9"/>
<polyline points="398.8,798.6 405.5,812.5" fill="none" stroke="#000" stroke-width="0.8"/>
<ellipse cx="385.9" cy="787.5" rx="3" ry="3" fill="#fff" stroke="#000" stroke-width="1"/>
<ellipse cx="385.9" cy="787.5" rx="1.8" ry="1.8" fill="#111" stroke="#000" stroke-width="0.8"/>
<polygon points="402.2,738 410.4,735.7 429.4,766 410.4,771 404.5,748" fill="#fff" stroke="#000" stroke-width="1"/>
<polygon points="410.4,770 429.4,765.3 438.8,796 429.4,802" fill="#fff" stroke="#000" stroke-width="1"/>
<polyline points="417,768.4 429.4,765.3" fill="none" stroke="#000" stroke-width="2"/>
<polyline points="426.3,783.6 433.7,798.1" fill="none" stroke="#000" stroke-width="0.9"/>
<polyline points="430.4,779.2 436.6,795.5" fill="none" stroke="#000" stroke-width="0.9"/>
<polyline points="430.1,790.2 433.5,787.9" fill="none" stroke="#000" stroke-width="0.9"/>
<polyline points="428.7,782.7 434.6,795.5" fill="none" stroke="#000" stroke-width="0.8"/>
<ellipse cx="416.8" cy="773.1" rx="3" ry="3" fill="#fff" stroke="#000" stroke-width="1"/>
<ellipse cx="416.8" cy="773.1" rx="1.8" ry="1.8" fill="#111" stroke="#000" stroke-width="0.8"/>
<polygon points="431.7,721.5 440,719.1 459,750 441.2,755 434,732" fill="#fff" stroke="#000" stroke-width="1"/>
<polygon points="441.2,754.6 459,749.9 468.4,780.7 459,784.2" fill="#fff" stroke="#000" stroke-width="1"/>
<polyline points="447.4,753 459,749.9" fill="none" stroke="#000" stroke-width="2"/>
<polyline points="456.2,767.6 463.3,781.5" fill="none" stroke="#000" stroke-width="0.9"/>
<polyline points="460.1,763.7 466.2,779.8" fill="none" stroke="#000" stroke-width="0.9"/>
<polyline points="459.9,774 463.2,772.2" fill="none" stroke="#000" stroke-width="0.9"/>
<polyline points="458.5,766.9 464.2,779.5" fill="none" stroke="#000" stroke-width="0.8"/>
<ellipse cx="447.2" cy="757.4" rx="3" ry="3" fill="#fff" stroke="#000" stroke-width="1"/>
<ellipse cx="447.2" cy="757.4" rx="1.8" ry="1.8" fill="#111" stroke="#000" stroke-width="0.8"/>
<polygon points="461.3,703.8 469.6,701.4 488.5,731.5 469.6,736.5 463.5,714" fill="#fff" stroke="#000" stroke-width="1"/>
<polygon points="469.6,735.7 488.5,731 498,761.7 488.5,766.5" fill="#fff" stroke="#000" stroke-width="1"/>
<polyline points="476.2,734.1 488.5,731" fill="none" stroke="#000" stroke-width="2"/>
<polyline points="485.4,749 492.8,763.2" fill="none" stroke="#000" stroke-width="0.9"/>
<polyline points="489.5,744.8 495.7,761" fill="none" stroke="#000" stroke-width="0.9"/>
<polyline points="489.3,755.5 492.7,753.4" fill="none" stroke="#000" stroke-width="0.9"/>
<polyline points="487.9,748.2 493.8,760.9" fill="none" stroke="#000" stroke-width="0.8"/>
<ellipse cx="475.9" cy="738.7" rx="3" ry="3" fill="#fff" stroke="#000" stroke-width="1"/>
<ellipse cx="475.9" cy="738.7" rx="1.8" ry="1.8" fill="#111" stroke="#000" stroke-width="0.8"/>
<polygon points="500.3,719.1 516.9,714.4 527.5,742.8 518,749.9" fill="#fff" stroke="#000" stroke-width="1"/>
<polyline points="506.1,717.5 516.9,714.4" fill="none" stroke="#000" stroke-width="2"/>
<polyline points="515,731.8 522.3,745.5" fill="none" stroke="#000" stroke-width="0.9"/>
<polyline points="518.6,727.5 525.2,742.6" fill="none" stroke="#000" stroke-width="0.9"/>
<polyline points="518.8,738.1 522,735.6" fill="none" stroke="#000" stroke-width="0.9"/>
<polyline points="517.2,730.8 523.2,742.9" fill="none" stroke="#000" stroke-width="0.8"/>
<ellipse cx="506" cy="722" rx="3" ry="3" fill="#fff" stroke="#000" stroke-width="1"/>
<ellipse cx="506" cy="722" rx="1.8" ry="1.8" fill="#111" stroke="#000" stroke-width="0.8"/>
<polyline points="515,531 517.5,530.5 535.5,565.8 510.2,702" fill="none" stroke="#000" stroke-width="1"/>
<polyline points="515.5,533.5 533.6,567.5" fill="none" stroke="#000" stroke-width="0.9"/>
<polyline points="533.3,566 508.2,702" fill="none" stroke="#000" stroke-width="1"/>
<polyline points="515,531 513.5,560" fill="none" stroke="#000" stroke-width="1"/>
<polygon points="508.2,702 520,659.7 534,699.4 528.9,717.3" fill="#fff" stroke="#000" stroke-width="1"/>
<polyline points="500.3,600 486.3,674" fill="none" stroke="#000" stroke-width="1"/>
<polyline points="438.2,600 448,626.5 478.7,672.6 491.2,689.4 502.4,711.7" fill="none" stroke="#000" stroke-width="1"/>
<ellipse cx="497.5" cy="651.7" rx="3.2" ry="3.4" fill="#fff" stroke="#000" stroke-width="1.6"/>
<ellipse cx="497.5" cy="651.7" rx="1.3" ry="1.5" fill="none" stroke="#000" stroke-width="0.8"/>
<ellipse cx="507.3" cy="657.3" rx="3.2" ry="3.4" fill="#fff" stroke="#000" stroke-width="1.6"/>
<ellipse cx="507.3" cy="657.3" rx="1.3" ry="1.5" fill="none" stroke="#000" stroke-width="0.8"/>
<ellipse cx="496.1" cy="660.8" rx="3.2" ry="3.4" fill="#fff" stroke="#000" stroke-width="1.6"/>
<ellipse cx="496.1" cy="660.8" rx="1.3" ry="1.5" fill="none" stroke="#000" stroke-width="0.8"/>
<ellipse cx="504.5" cy="667.7" rx="3.2" ry="3.4" fill="#fff" stroke="#000" stroke-width="1.6"/>
<ellipse cx="504.5" cy="667.7" rx="1.3" ry="1.5" fill="none" stroke="#000" stroke-width="0.8"/>
<ellipse cx="494.7" cy="671.2" rx="3.2" ry="3.4" fill="#fff" stroke="#000" stroke-width="1.6"/>
<ellipse cx="494.7" cy="671.2" rx="1.3" ry="1.5" fill="none" stroke="#000" stroke-width="0.8"/>
<ellipse cx="502.4" cy="680.3" rx="3.2" ry="3.4" fill="#fff" stroke="#000" stroke-width="1.6"/>
<ellipse cx="502.4" cy="680.3" rx="1.3" ry="1.5" fill="none" stroke="#000" stroke-width="0.8"/>
<path d="M428,440 C431,435.5 437,434.5 441.5,437 C445.5,439.5 446.5,445 445.2,450.5 L451,516 L444,516 Z" fill="#fff" stroke="#000" stroke-width="1"/>
<polyline points="437.4,458 443.7,514" fill="none" stroke="#000" stroke-width="0.9"/>
<polyline points="441.5,456 448.2,514" fill="none" stroke="#000" stroke-width="0.9"/>
<ellipse cx="430" cy="452" rx="11.5" ry="5" transform="rotate(60 430 452)" fill="#fff" stroke="#000" stroke-width="1"/>
<polygon points="405.2,453 424.2,442 435.8,462 416.8,473" fill="#fff" stroke="none"/>
<polyline points="405.2,453 424.2,442" fill="none" stroke="#000" stroke-width="1"/>
<polyline points="416.8,473 435.8,462" fill="none" stroke="#000" stroke-width="1"/>
<ellipse cx="411" cy="463" rx="11.5" ry="5" transform="rotate(60 411 463)" fill="#fff" stroke="#000" stroke-width="1"/>
<path d="M409.8,446.5 C407,449 405.5,452 405.5,455" fill="none" stroke="#000" stroke-width="1"/>
<polyline points="400.7,485.7 404.9,542.3" fill="none" stroke="#000" stroke-width="1"/>
<polyline points="404.5,487 408.8,541" fill="none" stroke="#000" stroke-width="0.8"/>
<polyline points="412.2,496.2 416.4,527.6" fill="none" stroke="#000" stroke-width="0.8"/>
<polyline points="444,514 451,516 452,530" fill="none" stroke="#000" stroke-width="0.9"/>
<ellipse cx="441.5" cy="540.5" rx="11" ry="4.6" transform="rotate(60 441.5 540.5)" fill="#fff" stroke="#000" stroke-width="1"/>
<polygon points="406.5,542.5 436,531 447,550 417.5,561.5" fill="#fff" stroke="none"/>
<polyline points="406.5,542.5 436,531" fill="none" stroke="#000" stroke-width="1"/>
<polyline points="417.5,561.5 447,550" fill="none" stroke="#000" stroke-width="1"/>
<ellipse cx="412" cy="552" rx="11" ry="4.6" transform="rotate(60 412 552)" fill="#fff" stroke="#000" stroke-width="1"/>
<polyline points="413.9,539.6 413.3,540.1 412.9,540.8 412.7,541.7 412.6,542.8 412.7,544 412.9,545.4 413.3,546.8 413.9,548.4 414.6,549.9 415.4,551.4 416.3,552.9 417.3,554.3 418.3,555.5 419.4,556.6 420.4,557.5 421.5,558.2 422.5,558.7 423.4,558.9 424.2,558.9 424.9,558.7" fill="none" stroke="#000" stroke-width="0.8"/>
<polyline points="419.8,537.3 419.2,537.8 418.8,538.5 418.6,539.4 418.5,540.5 418.6,541.7 418.8,543.1 419.2,544.5 419.8,546.1 420.5,547.6 421.3,549.1 422.2,550.6 423.2,552 424.2,553.2 425.3,554.3 426.3,555.2 427.4,555.9 428.4,556.4 429.3,556.6 430.1,556.6 430.8,556.4" fill="none" stroke="#000" stroke-width="0.8"/>
<polyline points="424.8,535.3 424.2,535.8 423.8,536.5 423.6,537.4 423.5,538.5 423.6,539.8 423.8,541.1 424.2,542.6 424.8,544.1 425.5,545.7 426.3,547.2 427.2,548.6 428.2,550 429.2,551.2 430.3,552.3 431.4,553.2 432.4,553.9 433.4,554.4 434.3,554.6 435.1,554.6 435.8,554.4" fill="none" stroke="#000" stroke-width="0.8"/>
<polyline points="430.1,533.3 429.5,533.8 429.1,534.5 428.9,535.4 428.8,536.4 428.9,537.7 429.1,539.1 429.6,540.5 430.1,542 430.8,543.6 431.6,545.1 432.5,546.6 433.5,547.9 434.5,549.2 435.6,550.3 436.7,551.2 437.7,551.9 438.7,552.3 439.6,552.6 440.4,552.6 441.1,552.3" fill="none" stroke="#000" stroke-width="0.8"/>
<polygon points="398.9,459.8 420,484 440,507 458.3,527.6 448.9,537 432,518 414,497 395.7,481.8" fill="#fff" stroke="#000" stroke-width="1"/>
<polyline points="404.1,474.5 452,533" fill="none" stroke="#000" stroke-width="0.8"/>
<ellipse cx="394.6" cy="470.8" rx="10.6" ry="13.1" fill="#fff" stroke="#000" stroke-width="1"/>
<ellipse cx="393.6" cy="472.2" rx="8.8" ry="11.2" fill="none" stroke="#000" stroke-width="0.8"/>
<ellipse cx="392.8" cy="474.5" rx="7" ry="8.4" fill="#fff" stroke="#000" stroke-width="1.1"/>
<polyline points="389.5,471 395.5,479" fill="none" stroke="#000" stroke-width="0.8"/>
<polyline points="391,480 394,468" fill="none" stroke="#000" stroke-width="0.8"/>
<ellipse cx="461" cy="540.2" rx="12" ry="13.6" fill="#fff" stroke="#000" stroke-width="1"/>
<ellipse cx="459.2" cy="541.5" rx="10" ry="11.8" fill="none" stroke="#000" stroke-width="0.8"/>
<ellipse cx="456" cy="545" rx="6.5" ry="7.9" fill="#fff" stroke="#000" stroke-width="1.1"/>
<ellipse cx="456.8" cy="544.4" rx="4.6" ry="6" fill="none" stroke="#000" stroke-width="0.8"/>
<ellipse cx="464.5" cy="593.3" rx="7.7" ry="8.4" fill="#fff" stroke="#000" stroke-width="1"/>
<path d="M391,545.5 C393,542 396,541 399.2,541.5 L456.8,590.2 C462.5,592 466.5,594 468.3,596.6 C470,600 470.3,603.5 469.6,606.8 C469.2,611 468.8,614.5 468.3,617 C466.5,619.5 465,621.2 463.2,622.2 C459,623.8 455.5,624.5 451.7,624.8 L445.6,625.9 L442.6,610.8 C441.5,606 439.5,601 436.6,595.6 C433,589.5 427,584 418,580.6 L398,575.8 L389,573 Z" fill="#fff" stroke="#000" stroke-width="1"/>
<polyline points="401,544 457.5,592.5" fill="none" stroke="#000" stroke-width="0.9"/>
<path transform="translate(399.8 560.7) rotate(60)" d="M-9.4,0 a9.4,8.8 0 1,0 18.9,0 a9.4,8.8 0 1,0 -18.9,0 Z M-6,0 a6,5.7 0 1,0 12.1,0 a6,5.7 0 1,0 -12.1,0 Z" fill="#fff" fill-rule="evenodd" stroke="#000" stroke-width="1"/>
<ellipse cx="400.8" cy="560.2" rx="4.6" ry="5.2" fill="none" stroke="#000" stroke-width="0.7"/>
<path transform="translate(453.6 608.4) rotate(60)" d="M-9,0 a9,7.6 0 1,0 18.1,0 a9,7.6 0 1,0 -18.1,0 Z M-5.6,0 a5.6,4.7 0 1,0 11.2,0 a5.6,4.7 0 1,0 -11.2,0 Z" fill="#fff" fill-rule="evenodd" stroke="#000" stroke-width="1"/>
<ellipse cx="454.6" cy="607.6" rx="3.8" ry="4.6" fill="none" stroke="#000" stroke-width="0.7"/>
<path d="M512.8,561 C518,561 522.5,566 523.8,574 C524.6,580 523.5,586 520.5,590.5 C517,595.5 509,598.5 500,599 C504,596 507.5,592 509,586 C510.5,578 510,568 512.8,561 Z" fill="#fff" stroke="#000" stroke-width="1"/>
<path d="M513.5,564.5 C516.5,567 518.5,573 518.8,579 C519,585 517,590 513.5,593.5" fill="none" stroke="#222" stroke-width="2.2"/>
<path d="M511.8,568 C512.5,575 512.3,584 509.5,591" fill="none" stroke="#333" stroke-width="1.6"/>
<path d="M515.2,562.2 C520,565 522.3,571 522.6,578 C522.8,585 520.5,590 516,594" fill="none" stroke="#000" stroke-width="0.9"/></g>
<g class="lb"><text transform="translate(443.9 43.7) scale(0.6 1)">0</text>
<text transform="translate(455.6 43.7) scale(0.6 1)">0</text>
<polygon points="604.5,50.5 607,50.5 607,70.9 604.5,70.9 604.5,56.6 600.6,59.1 600.6,56.6 603.9,51.1" fill="#000"/>
<polygon points="616.2,50.5 618.7,50.5 618.7,70.9 616.2,70.9 616.2,56.6 612.3,59.1 612.3,56.6 615.6,51.1" fill="#000"/>
<polygon points="194.4,58.3 196.9,58.3 196.9,78.7 194.4,78.7 194.4,64.4 190.5,66.9 190.5,64.4 193.8,58.9" fill="#000"/>
<text transform="translate(201.2 78.7) scale(0.6 1)">8</text>
<polygon points="146.6,87.9 149.1,87.9 149.1,108.3 146.6,108.3 146.6,94 142.7,96.5 142.7,94 146,88.5" fill="#000"/>
<text transform="translate(153.4 108.3) scale(0.6 1)">9</text>
<polygon points="97.3,112.9 99.8,112.9 99.8,133.3 97.3,133.3 97.3,119 93.4,121.5 93.4,119 96.7,113.5" fill="#000"/>
<text transform="translate(104.1 133.3) scale(0.6 1)">5</text>
<polygon points="67.9,130.5 70.4,130.5 70.4,150.9 67.9,150.9 67.9,136.6 64,139.1 64,136.6 67.3,131.1" fill="#000"/>
<text transform="translate(74.7 150.9) scale(0.6 1)">6</text>
<polygon points="39.5,147.3 42,147.3 42,167.7 39.5,167.7 39.5,153.4 35.6,155.9 35.6,153.4 38.9,147.9" fill="#000"/>
<text transform="translate(46.3 167.7) scale(0.6 1)">7</text>
<text transform="translate(244.3 153.5) scale(0.6 1)">0</text>
<text transform="translate(256 153.5) scale(0.6 1)">5</text>
<text transform="translate(439 137.5) scale(0.6 1)">0</text>
<text transform="translate(450.7 137.5) scale(0.6 1)">4</text>
<text transform="translate(435.3 237.9) scale(0.6 1)">0</text>
<text transform="translate(447 237.9) scale(0.6 1)">3</text>
<text transform="translate(762.8 165.7) scale(0.6 1)">0</text>
<text transform="translate(774.5 165.7) scale(0.6 1)">0</text>
<text transform="translate(786.3 165.7) scale(0.6 1)">B</text>
<text transform="translate(704.5 199.1) scale(0.6 1)">0</text>
<text transform="translate(716.2 199.1) scale(0.6 1)">0</text>
<text transform="translate(728 199.1) scale(0.6 1)">A</text>
<text transform="translate(650.3 219.3) scale(0.6 1)">0</text>
<text transform="translate(662 219.3) scale(0.6 1)">0</text>
<text transform="translate(673.8 219.3) scale(0.6 1)">A</text>
<text transform="translate(601.3 248.9) scale(0.6 1)">0</text>
<text transform="translate(613 248.9) scale(0.6 1)">0</text>
<text transform="translate(624.8 248.9) scale(0.6 1)">B</text>
<polygon points="290.5,236.3 293,236.3 293,256.7 290.5,256.7 290.5,242.4 286.6,244.9 286.6,242.4 289.9,236.9" fill="#000"/>
<text transform="translate(297.3 256.7) scale(0.6 1)">3</text>
<polygon points="242.9,265.3 245.4,265.3 245.4,285.7 242.9,285.7 242.9,271.4 239,273.9 239,271.4 242.3,265.9" fill="#000"/>
<text transform="translate(249.7 285.7) scale(0.6 1)">4</text>
<polygon points="208.9,285.1 211.4,285.1 211.4,305.5 208.9,305.5 208.9,291.2 205,293.7 205,291.2 208.3,285.7" fill="#000"/>
<text transform="translate(215.7 305.5) scale(0.6 1)">5</text>
<polygon points="183.1,297.6 185.6,297.6 185.6,318 183.1,318 183.1,303.7 179.2,306.2 179.2,303.7 182.5,298.2" fill="#000"/>
<text transform="translate(189.9 318) scale(0.6 1)">6</text>
<polygon points="157.3,309.8 159.8,309.8 159.8,330.2 157.3,330.2 157.3,315.9 153.4,318.4 153.4,315.9 156.7,310.4" fill="#000"/>
<text transform="translate(164.1 330.2) scale(0.6 1)">7</text>
<polygon points="819.1,279.5 821.6,279.5 821.6,299.9 819.1,299.9 819.1,285.6 815.2,288.1 815.2,285.6 818.5,280.1" fill="#000"/>
<text transform="translate(825.9 299.9) scale(0.6 1)">0</text>
<text transform="translate(741.3 390.2) scale(0.6 1)">0</text>
<text transform="translate(753 390.2) scale(0.6 1)">9</text>
<text transform="translate(656.1 443.1) scale(0.6 1)">0</text>
<text transform="translate(667.8 443.1) scale(0.6 1)">6</text>
<text transform="translate(829.9 461.5) scale(0.6 1)">0</text>
<text transform="translate(841.6 461.5) scale(0.6 1)">8</text>
<text transform="translate(778.3 492.5) scale(0.6 1)">0</text>
<text transform="translate(790 492.5) scale(0.6 1)">5</text>
<text transform="translate(726.7 524.7) scale(0.6 1)">0</text>
<text transform="translate(738.4 524.7) scale(0.6 1)">0</text>
<text transform="translate(750.2 524.7) scale(0.6 1)">C</text>
<text transform="translate(689.8 547.7) scale(0.6 1)">0</text>
<text transform="translate(701.5 547.7) scale(0.6 1)">0</text>
<text transform="translate(713.3 547.7) scale(0.6 1)">D</text>
<text transform="translate(880.3 559.6) scale(0.6 1)">0</text>
<text transform="translate(892 559.6) scale(0.6 1)">9</text>
<text transform="translate(828 595.7) scale(0.6 1)">0</text>
<text transform="translate(839.7 595.7) scale(0.6 1)">6</text>
<text transform="translate(798.3 609.1) scale(0.6 1)">0</text>
<text transform="translate(810 609.1) scale(0.6 1)">5</text>
<text transform="translate(761.9 636.2) scale(0.6 1)">0</text>
<text transform="translate(773.6 636.2) scale(0.6 1)">0</text>
<text transform="translate(785.4 636.2) scale(0.6 1)">E</text>
<text transform="translate(726.5 656.9) scale(0.6 1)">0</text>
<text transform="translate(738.2 656.9) scale(0.6 1)">0</text>
<text transform="translate(750 656.9) scale(0.6 1)">F</text>
<text transform="translate(770.9 684.7) scale(0.6 1)">0</text>
<text transform="translate(782.6 684.7) scale(0.6 1)">2</text>
<text transform="translate(797.3 710.5) scale(0.6 1)">0</text>
<text transform="translate(809 710.5) scale(0.6 1)">4</text>
<text transform="translate(797.3 783.1) scale(0.6 1)">0</text>
<text transform="translate(809 783.1) scale(0.6 1)">3</text>
<text transform="translate(632.8 726.7) scale(0.6 1)">0</text>
<text transform="translate(644.5 726.7) scale(0.6 1)">2</text>
<text transform="translate(634.3 792.9) scale(0.6 1)">0</text>
<polygon points="650.9,772.5 653.4,772.5 653.4,792.9 650.9,792.9 650.9,778.6 647,781.1 647,778.6 650.3,773.1" fill="#000"/>
<polygon points="267.1,362.7 269.6,362.7 269.6,383.1 267.1,383.1 267.1,368.8 263.2,371.3 263.2,368.8 266.5,363.3" fill="#000"/>
<text transform="translate(273.9 383.1) scale(0.6 1)">2</text>
<polygon points="229.7,383.3 232.2,383.3 232.2,403.7 229.7,403.7 229.7,389.4 225.8,391.9 225.8,389.4 229.1,383.9" fill="#000"/>
<polygon points="241.4,383.3 243.9,383.3 243.9,403.7 241.4,403.7 241.4,389.4 237.5,391.9 237.5,389.4 240.8,383.9" fill="#000"/>
<text transform="translate(234.1 503.1) scale(0.6 1)">0</text>
<text transform="translate(245.8 503.1) scale(0.6 1)">2</text>
<text transform="translate(272.8 526.4) scale(0.6 1)">0</text>
<polygon points="289.4,506 291.9,506 291.9,526.4 289.4,526.4 289.4,512.1 285.5,514.6 285.5,512.1 288.8,506.6" fill="#000"/>
<text transform="translate(303.8 544.4) scale(0.6 1)">0</text>
<polygon points="320.4,524 322.9,524 322.9,544.4 320.4,544.4 320.4,530.1 316.5,532.6 316.5,530.1 319.8,524.6" fill="#000"/>
<text transform="translate(193.4 527) scale(0.6 1)">2</text>
<text transform="translate(205.1 527) scale(0.6 1)">0</text>
<text transform="translate(71.2 590.2) scale(0.6 1)">0</text>
<polygon points="87.8,569.8 90.3,569.8 90.3,590.2 87.8,590.2 87.8,575.9 83.9,578.4 83.9,575.9 87.2,570.4" fill="#000"/>
<text transform="translate(102.3 607) scale(0.6 1)">0</text>
<polygon points="118.9,586.6 121.4,586.6 121.4,607 118.9,607 118.9,592.7 115,595.2 115,592.7 118.3,587.2" fill="#000"/>
<text transform="translate(138.3 628.9) scale(0.6 1)">0</text>
<polygon points="154.9,608.5 157.4,608.5 157.4,628.9 154.9,628.9 154.9,614.6 151,617.1 151,614.6 154.3,609.1" fill="#000"/>
<text transform="translate(138.3 657.3) scale(0.6 1)">0</text>
<polygon points="154.9,636.9 157.4,636.9 157.4,657.3 154.9,657.3 154.9,643 151,645.5 151,643 154.3,637.5" fill="#000"/>
<text transform="translate(138.3 684.4) scale(0.6 1)">0</text>
<text transform="translate(150 684.4) scale(0.6 1)">6</text>
<text transform="translate(138.3 712.8) scale(0.6 1)">0</text>
<text transform="translate(150 712.8) scale(0.6 1)">2</text>
<text transform="translate(290 777.2) scale(0.6 1)">0</text>
<text transform="translate(301.7 777.2) scale(0.6 1)">6</text></g>
</svg>
</body></html>
